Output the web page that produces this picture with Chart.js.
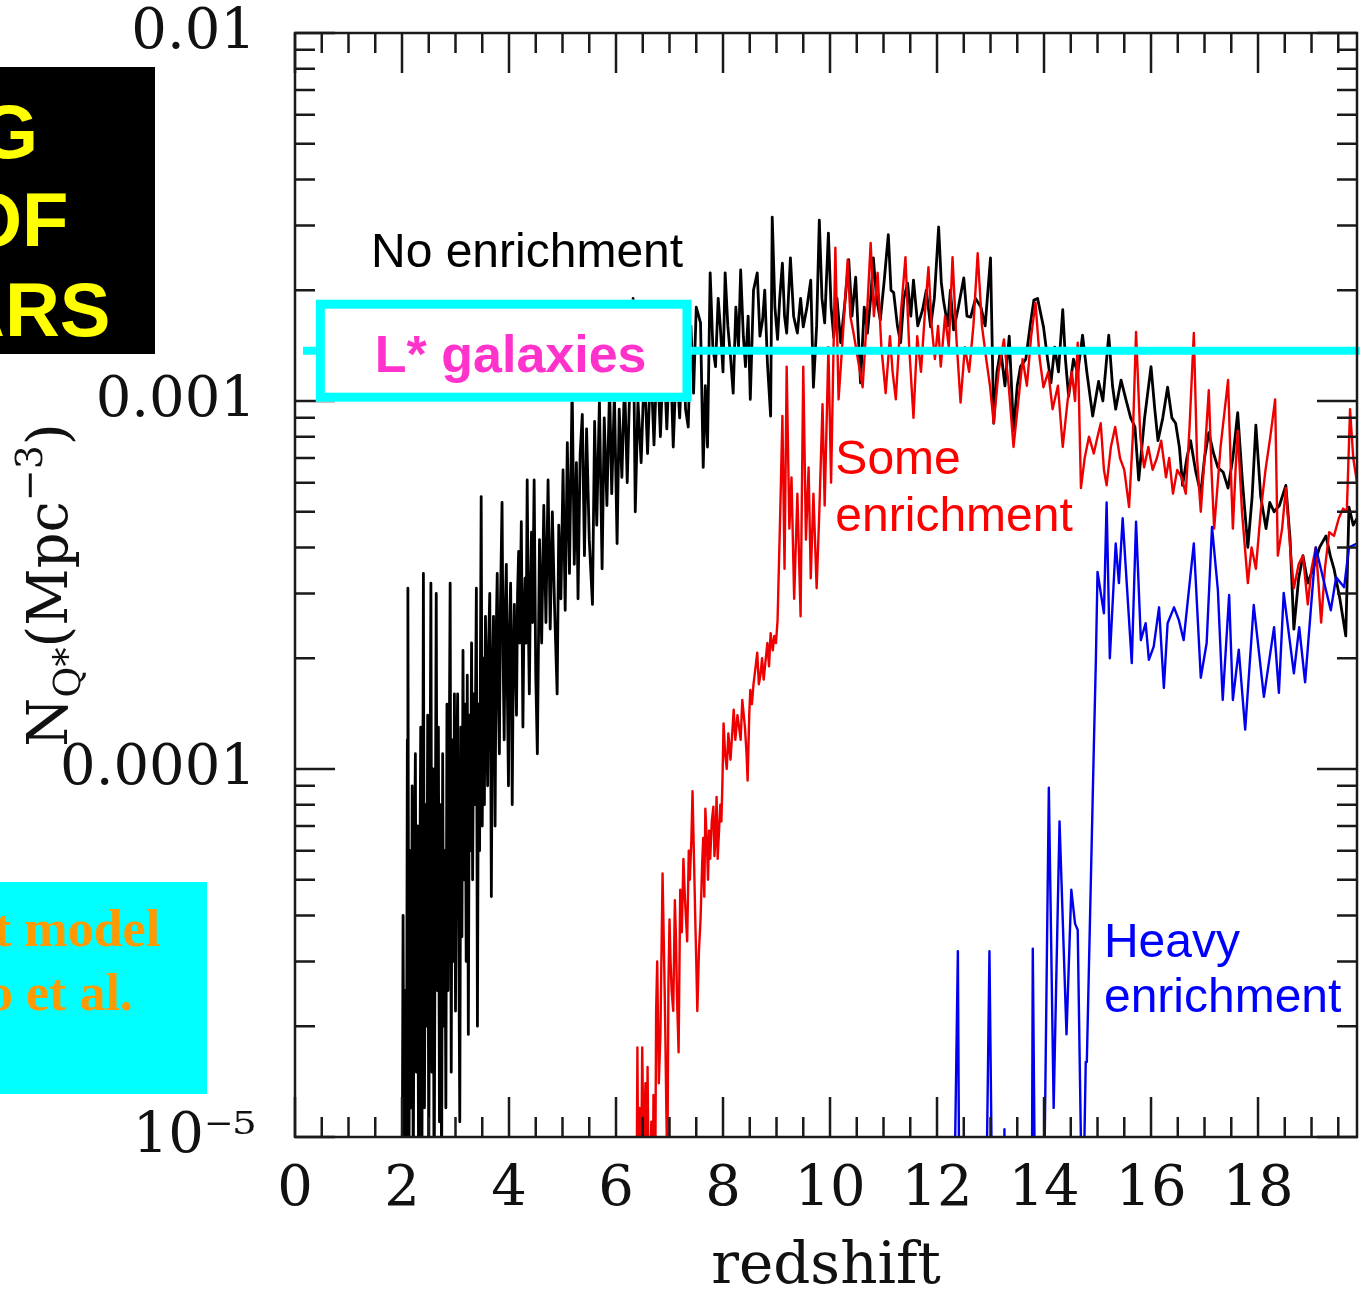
<!DOCTYPE html>
<html>
<head>
<meta charset="utf-8">
<title>Quasar number density vs redshift</title>
<script src="https://cdn.jsdelivr.net/npm/chart.js@4.4.1/dist/chart.umd.min.js"></script>
<style>
    body { margin: 0; background: #ffffff; }
    #wrap { position: relative; width: 1365px; height: 1291px; overflow: hidden; }
    #nqChart { position: absolute; left: 0; top: 0; }
    .slideBox { position: absolute; overflow: hidden; }
    .slideBox div { position: absolute; white-space: nowrap; line-height: 1; }
    #titleBox { left: 0; top: 67px; width: 155px; height: 287px; background: #000000; }
    #titleBox div { color: #ffff00; font: bold 76px "Liberation Sans", Arial, sans-serif; }
    #modelBox { left: 0; top: 882px; width: 207px; height: 212px; background: #00ffff; }
    #modelBox div { color: #ff9900; font: bold 52px "Liberation Serif", "Times New Roman", serif; }
</style>
</head>
<body>
<div id="wrap">
    <canvas id="nqChart" width="1365" height="1291"></canvas>
    <div id="titleBox" class="slideBox">
        <div style="left: -21px; top: 21px;">G</div>
        <div style="left: -37px; top: 109px;">OF</div>
        <div style="left: -50px; top: 199px;">ARS</div>
    </div>
    <div id="modelBox" class="slideBox">
        <div style="left: -6px; top: 17px;">t model</div>
        <div style="left: -13px; top: 81px;">o et al.</div>
    </div>
</div>
<script>
// no enrichment (black)
const noEnrichZ = [
    2.00, 2.02, 2.04, 2.06, 2.08, 2.10, 2.11, 2.13, 2.15, 2.17,
    2.19, 2.21, 2.23, 2.25, 2.27, 2.29, 2.31, 2.33, 2.35, 2.37,
    2.40, 2.42, 2.44, 2.46, 2.48, 2.50, 2.52, 2.54, 2.56, 2.58,
    2.60, 2.62, 2.64, 2.66, 2.68, 2.70, 2.72, 2.74, 2.76, 2.78,
    2.80, 2.82, 2.84, 2.86, 2.88, 2.90, 2.92, 2.94, 2.96, 2.98,
    3.00, 3.02, 3.04, 3.06, 3.08, 3.10, 3.12, 3.14, 3.16, 3.18,
    3.20, 3.22, 3.24, 3.26, 3.28, 3.30, 3.32, 3.34, 3.36, 3.39,
    3.41, 3.43, 3.45, 3.48, 3.50, 3.52, 3.54, 3.56, 3.58, 3.60,
    3.62, 3.64, 3.66, 3.67, 3.69, 3.71, 3.73, 3.74, 3.76, 3.78,
    3.80, 3.82, 3.84, 3.87, 3.89, 3.91, 3.93, 3.95, 3.97, 3.99,
    4.01, 4.03, 4.05, 4.06, 4.08, 4.10, 4.12, 4.14, 4.16, 4.18,
    4.20, 4.23, 4.25, 4.26, 4.28, 4.30, 4.32, 4.34, 4.36, 4.38,
    4.40, 4.42, 4.44, 4.47, 4.50, 4.53, 4.57, 4.61, 4.65, 4.69,
    4.73, 4.77, 4.81, 4.85, 4.90, 4.93,
    4.97, 5.01, 5.05, 5.09, 5.13, 5.18, 5.22, 5.26, 5.29, 5.33, 5.37, 5.41, 5.45, 5.50, 5.56, 5.60, 5.64, 5.69, 5.74, 5.78,
    5.83, 5.88, 5.92, 5.97, 6.02, 6.06, 6.11, 6.16, 6.21, 6.27, 6.32, 6.36, 6.41, 6.47, 6.53, 6.59, 6.65, 6.71, 6.77, 6.83,
    6.89, 6.95, 7.01, 7.07, 7.13, 7.19, 7.25, 7.30, 7.35, 7.40, 7.45, 7.50, 7.58, 7.63, 7.67, 7.71, 7.76, 7.81, 7.86, 7.91,
    7.95, 8.00, 8.04, 8.09, 8.14, 8.19, 8.24, 8.29, 8.33, 8.38, 8.42, 8.47, 8.51, 8.57, 8.64, 8.69, 8.74, 8.78, 8.83, 8.89,
    8.92, 8.97, 9.02, 9.06, 9.11, 9.15, 9.19, 9.26, 9.32, 9.39, 9.45, 9.50, 9.57, 9.64, 9.69, 9.75, 9.80, 9.85, 9.90, 9.97,
    10.02, 10.07, 10.13, 10.20, 10.27, 10.35, 10.41, 10.48, 10.53, 10.57, 10.64, 10.70, 10.76, 10.81, 10.87, 10.94, 11.01, 11.09, 11.14, 11.19,
    11.26, 11.32, 11.38, 11.45, 11.51, 11.56, 11.64, 11.73, 11.80, 11.88, 11.95, 12.03, 12.08, 12.12, 12.20, 12.25, 12.31, 12.40, 12.50, 12.56,
    12.63, 12.72, 12.82, 12.90, 13.00, 13.06, 13.12, 13.19, 13.27, 13.35, 13.43, 13.50, 13.56, 13.66, 13.74, 13.81, 13.88, 13.99, 14.07, 14.13,
    14.20, 14.27, 14.35, 14.40, 14.46, 14.55, 14.63, 14.72, 14.80, 14.91, 15.02, 15.10, 15.21, 15.28, 15.34, 15.44, 15.53, 15.62, 15.70, 15.77,
    15.88, 16.00, 16.07, 16.13, 16.22, 16.31, 16.39, 16.46, 16.53, 16.59, 16.67, 16.74, 16.83, 16.93, 17.00, 17.08, 17.17, 17.25, 17.35, 17.44,
    17.53, 17.62, 17.71, 17.81, 17.89, 17.96, 18.05, 18.15, 18.22, 18.30, 18.40, 18.52, 18.60, 18.67, 18.76, 18.84, 18.93, 19.03, 19.15, 19.27,
    19.35, 19.42, 19.53, 19.64, 19.70, 19.78, 19.85,
];
const noEnrichN = [
    5e-6, 4e-5, 6e-6, 2.5e-5, 6e-6, 1.2e-4, 3.1e-4, 8e-6, 6e-5, 1.2e-5,
    9e-5, 7e-6, 5e-5, 1.1e-4, 1.5e-5, 7e-5, 8e-6, 4e-5, 1.3e-4, 6e-6,
    3.4e-4, 1.2e-5, 8e-5, 2e-5, 1.4e-4, 8e-6, 6e-5, 3.2e-4, 1.5e-5, 1.0e-4,
    6e-6, 5e-5, 3e-4, 2.5e-5, 1.3e-4, 1.1e-5, 8e-5, 7e-6, 1.1e-4, 2e-5,
    6e-5, 1.2e-5, 1.5e-4, 2.5e-5, 9e-5, 3.2e-4, 1.5e-5, 1.2e-4, 3e-5, 1.6e-4,
    2.2e-5, 1.0e-4, 1.6e-4, 4e-5, 1.1e-5, 1.3e-4, 3.5e-5, 2.1e-4, 5e-5, 1.5e-4,
    3e-5, 1.8e-4, 1.9e-5, 1.4e-4, 6e-5, 2.2e-4, 5e-5, 1.6e-4, 8e-5, 3.1e-4,
    2e-5, 1.5e-4, 6e-5, 5.5e-4, 7e-5, 2.0e-4, 8e-5, 2.6e-4, 1.5e-4, 9e-5,
    2.2e-4, 3e-4, 1.0e-4, 4.5e-5, 1.8e-4, 2.6e-4, 1.2e-4, 7e-5, 2.3e-4, 3.4e-4,
    1.6e-4, 1.1e-4, 2.8e-4, 5.3e-4, 2.0e-4, 1.2e-4, 2.7e-4, 3.6e-4, 1.6e-4, 9e-5,
    2.4e-4, 3.2e-4, 1.5e-4, 8e-5, 2.0e-4, 2.8e-4, 1.9e-4, 1.4e-4, 3.0e-4, 3.9e-4,
    2.2e-4, 4.7e-4, 2.0e-4, 1.3e-4, 2.6e-4, 3.3e-4, 2.2e-4, 6.1e-4, 2.6e-4, 1.6e-4,
    3.0e-4, 4.4e-4, 2.5e-4, 6.1e-4, 1.8e-4, 1.1e-4, 4.2e-4, 2.2e-4, 5.2e-4, 2.5e-4,
    6.1e-4, 2.4e-4, 5.0e-4, 2.8e-4, 1.6e-4, 4.6e-4,
    2.9e-4, 6.5e-4, 2.7e-4, 7.7e-4, 3.4e-4, 1.1e-3, 3.6e-4, 6.8e-4, 2.9e-4, 7.2e-4, 9.2e-4, 3.8e-4, 8.4e-4, 4.2e-4, 2.8e-4, 8.8e-4, 4.6e-4, 1.0e-3, 3.5e-4, 9.0e-4,
    5.2e-4, 1.1e-3, 5.6e-4, 1.05e-3, 4.1e-4, 9.5e-4, 6.2e-4, 1.15e-3, 6.0e-4, 1.3e-3, 1.9e-3, 5.0e-4, 1.0e-3, 6.8e-4, 1.25e-3, 7.2e-4, 1.3e-3, 7.6e-4, 1.35e-3, 8.0e-4,
    1.4e-3, 8.4e-4, 1.45e-3, 7.5e-4, 1.3e-3, 9.0e-4, 1.5e-3, 9.5e-4, 8.5e-4, 1.6e-3, 1.05e-3, 1.8e-3, 1.63e-3, 6.6e-4, 1.1e-3, 7.5e-4, 2.23e-3, 1.4e-3, 1.24e-3, 1.9e-3,
    1.59e-3, 1.2e-3, 2.23e-3, 1.6e-3, 1.32e-3, 1.05e-3, 1.8e-3, 1.4e-3, 2.27e-3, 1.5e-3, 1.24e-3, 1.7e-3, 1.01e-3, 2.0e-3, 2.23e-3, 1.5e-3, 1.66e-3, 2.0e-3, 1.27e-3, 9.1e-4,
    3.16e-3, 1.8e-3, 1.47e-3, 1.9e-3, 2.37e-3, 1.7e-3, 1.53e-3, 2.45e-3, 1.7e-3, 1.53e-3, 1.9e-3, 1.59e-3, 1.8e-3, 2.13e-3, 1.09e-3, 1.6e-3, 3.1e-3, 1.9e-3, 1.63e-3, 2.86e-3,
    1.8e-3, 1.49e-3, 1.9e-3, 1.44e-3, 1.8e-3, 2.42e-3, 1.7e-3, 2.17e-3, 1.5e-3, 1.12e-3, 1.8e-3, 1.53e-3, 1.9e-3, 2.45e-3, 1.9e-3, 1.66e-3, 2.1e-3, 2.83e-3, 2.0e-3, 1.97e-3,
    1.6e-3, 1.44e-3, 1.9e-3, 2.09e-3, 1.7e-3, 2.13e-3, 1.6e-3, 1.77e-3, 2.0e-3, 1.59e-3, 1.9e-3, 2.97e-3, 2.1e-3, 1.88e-3, 1.6e-3, 2.0e-3, 1.56e-3, 1.8e-3, 2.16e-3, 1.7e-3,
    1.69e-3, 1.9e-3, 1.8e-3, 1.6e-3, 2.45e-3, 8.7e-4, 1.2e-3, 1.38e-3, 1.1e-3, 1.5e-3, 8.3e-4, 1.1e-3, 1.24e-3, 1.3e-3, 1.6e-3, 1.88e-3, 1.9e-3, 1.59e-3, 1.29e-3, 1.12e-3,
    1.4e-3, 1.2e-3, 1.77e-3, 1.3e-3, 1.03e-3, 1.3e-3, 1.19e-3, 1.51e-3, 1.2e-3, 9.1e-4, 1.13e-3, 1.0e-3, 1.51e-3, 1.1e-3, 9.5e-4, 1.14e-3, 1.01e-3, 9.0e-4, 8.5e-4, 6.1e-4,
    9.0e-4, 1.24e-3, 9.5e-4, 7.8e-4, 9.0e-4, 1.09e-3, 9.0e-4, 8.7e-4, 7.5e-4, 5.9e-4, 7.0e-4, 7.8e-4, 6.5e-4, 5.6e-4, 7.0e-4, 8.2e-4, 7.2e-4, 6.6e-4, 6.4e-4, 5.8e-4,
    7.0e-4, 9.3e-4, 6.0e-4, 4.0e-4, 5.5e-4, 8.6e-4, 5.5e-4, 4.5e-4, 5.3e-4, 5.0e-4, 5.2e-4, 5.9e-4, 4.2e-4, 2.4e-4, 3.3e-4, 3.8e-4, 3.2e-4, 3.5e-4, 4.0e-4, 4.3e-4,
    3.8e-4, 3.5e-4, 2.9e-4, 2.3e-4, 5.15e-4, 4.6e-4, 4.8e-4,
];

// some enrichment (red)
const someEnrichZ = [
    6.38, 6.40, 6.42, 6.44, 6.46, 6.49, 6.52, 6.55, 6.57, 6.59,
    6.62, 6.66, 6.68, 6.70, 6.73, 6.75, 6.77, 6.80, 6.83, 6.87,
    6.90, 6.92, 6.94, 6.96, 6.98, 7.00, 7.02, 7.04, 7.07, 7.10,
    7.12, 7.14, 7.17, 7.20, 7.23, 7.26, 7.29, 7.33, 7.36, 7.38,
    7.41, 7.43, 7.46, 7.48, 7.50, 7.52, 7.55, 7.58, 7.61, 7.63,
    7.65, 7.67, 7.70, 7.72, 7.74, 7.76, 7.79, 7.82, 7.84, 7.86,
    7.88, 7.90, 7.93, 7.95, 7.97, 7.99, 8.01, 8.04, 8.07, 8.10,
    8.14, 8.18, 8.20, 8.23, 8.27, 8.30, 8.33, 8.36, 8.41, 8.44,
    8.46, 8.49, 8.51, 8.54, 8.57, 8.61, 8.64, 8.67, 8.70, 8.73,
    8.76, 8.80, 8.83, 8.86, 8.89, 8.93, 8.96, 8.99, 9.02,
    9.07, 9.11, 9.15, 9.19, 9.24, 9.28,
    9.33, 9.39, 9.45, 9.50, 9.55, 9.60, 9.64, 9.69, 9.75, 9.80, 9.86, 9.90, 9.97, 10.02, 10.10, 10.16, 10.24, 10.33, 10.38, 10.44,
    10.52, 10.61, 10.68, 10.76, 10.82, 10.89, 10.96, 11.04, 11.12, 11.17, 11.23, 11.32, 11.41, 11.48, 11.56, 11.63, 11.70, 11.77, 11.84, 11.90,
    11.96, 12.02, 12.07, 12.15, 12.22, 12.29, 12.36, 12.44, 12.52, 12.60, 12.68, 12.76, 12.84, 12.92, 12.99, 13.06, 13.15, 13.25, 13.34, 13.43,
    13.52, 13.60, 13.68, 13.76, 13.84, 13.92, 13.99, 14.08, 14.16, 14.26, 14.35, 14.44, 14.52, 14.58, 14.63, 14.69, 14.76, 14.84, 14.93, 15.00,
    15.06, 15.12, 15.17, 15.25, 15.33, 15.42, 15.50, 15.59, 15.66, 15.72, 15.80, 15.87, 15.95, 16.03, 16.11, 16.19, 16.28, 16.34, 16.41, 16.49,
    16.57, 16.65, 16.72, 16.80, 16.86, 16.93, 17.00, 17.08, 17.13, 17.18, 17.30, 17.44, 17.50, 17.53, 17.58, 17.62, 17.70, 17.81, 17.88, 17.96,
    18.05, 18.14, 18.23, 18.32, 18.37, 18.45, 18.52, 18.60, 18.67, 18.76, 18.84, 18.93, 19.00, 19.08, 19.13, 19.18, 19.25, 19.33, 19.42, 19.51,
    19.59, 19.66, 19.72, 19.78, 19.85,
];
const someEnrichN = [
    5e-6, 1.75e-5, 6e-6, 1.2e-5, 5e-6, 1.75e-5, 8e-6, 1.4e-5, 6e-6, 1.55e-5,
    5e-6, 1.1e-5, 5e-6, 1.3e-5, 6e-6, 2.2e-5, 3.0e-5, 1.4e-5, 1.9e-5, 5.2e-5,
    3.0e-5, 2.0e-5, 1.2e-5, 8e-6, 2.6e-5, 3.9e-5, 3.0e-5, 2.5e-5, 2.2e-5, 4.4e-5,
    3.5e-5, 2.4e-5, 1.7e-5, 4.7e-5, 3.6e-5, 5.7e-5, 4.4e-5, 3.4e-5, 6.0e-5, 5.0e-5,
    6.5e-5, 8.7e-5, 5.5e-5, 4.0e-5, 3.0e-5, 2.2e-5, 3.2e-5, 3.9e-5, 5.5e-5, 6.5e-5,
    4.5e-5, 7.8e-5, 6.2e-5, 5.0e-5, 6.8e-5, 5.7e-5, 7.2e-5, 7.9e-5, 5.8e-5, 6.5e-5,
    8.4e-5, 5.7e-5, 7.0e-5, 8.0e-5, 7.2e-5, 9.3e-5, 1.33e-4, 1.1e-4, 1.0e-4, 1.25e-4,
    1.06e-4, 1.3e-4, 1.45e-4, 1.2e-4, 1.4e-4, 1.3e-4, 1.2e-4, 1.54e-4, 1.3e-4, 1.1e-4,
    9.3e-5, 1.4e-4, 1.64e-4, 1.5e-4, 1.7e-4, 1.9e-4, 2.07e-4, 1.7e-4, 1.8e-4, 2.0e-4,
    1.75e-4, 2.0e-4, 2.2e-4, 1.9e-4, 2.34e-4, 2.1e-4, 2.3e-4, 2.2e-4, 2.54e-4,
    5.0e-4, 9.1e-4, 3.5e-4, 1.24e-3, 4.5e-4, 6.2e-4,
    2.9e-4, 5.6e-4, 2.6e-4, 1.24e-3, 4.2e-4, 6.6e-4, 3.3e-4, 5.6e-4, 3.1e-4, 5.0e-4, 9.8e-4, 5.2e-4, 1.4e-3, 6.0e-4, 2.61e-3, 1.01e-3, 1.5e-3, 2.42e-3, 1.7e-3, 1.53e-3,
    1.3e-3, 1.09e-3, 1.6e-3, 2.69e-3, 1.7e-3, 2.23e-3, 1.4e-3, 1.05e-3, 1.5e-3, 1.2e-3, 1.01e-3, 1.7e-3, 2.46e-3, 1.4e-3, 9.0e-4, 1.5e-3, 1.2e-3, 1.7e-3, 2.31e-3, 1.6e-3,
    1.3e-3, 1.6e-3, 1.24e-3, 1.7e-3, 1.4e-3, 2.46e-3, 1.5e-3, 9.9e-4, 1.4e-3, 1.2e-3, 1.6e-3, 2.52e-3, 1.6e-3, 1.3e-3, 1.1e-3, 8.7e-4, 1.2e-3, 1.47e-3, 1.1e-3, 7.5e-4,
    1.0e-3, 1.3e-3, 1.1e-3, 1.5e-3, 1.85e-3, 1.3e-3, 1.09e-3, 1.2e-3, 9.5e-4, 1.1e-3, 7.5e-4, 1.0e-3, 1.2e-3, 1.0e-3, 1.44e-3, 5.8e-4, 7.0e-4, 8.0e-4, 7.2e-4, 8.0e-4,
    8.7e-4, 6.5e-4, 5.9e-4, 7.5e-4, 8.5e-4, 7.0e-4, 6.5e-4, 5.15e-4, 8.0e-4, 1.54e-3, 8.0e-4, 6.6e-4, 7.5e-4, 6.5e-4, 7.0e-4, 7.8e-4, 6.2e-4, 7.0e-4, 5.6e-4, 6.5e-4,
    6.2e-4, 5.6e-4, 8.5e-4, 1.53e-3, 7.0e-4, 5.0e-4, 7.0e-4, 1.07e-3, 6.5e-4, 4.5e-4, 7.5e-4, 1.14e-3, 6.0e-4, 4.5e-4, 6.5e-4, 8.3e-4, 5.0e-4, 3.2e-4, 4.0e-4, 3.5e-4,
    5.0e-4, 6.5e-4, 8.0e-4, 1.01e-3, 3.8e-4, 4.5e-4, 5.8e-4, 4.0e-4, 3.1e-4, 3.6e-4, 3.8e-4, 2.8e-4, 3.5e-4, 4.0e-4, 3.2e-4, 2.5e-4, 3.5e-4, 4.4e-4, 4.3e-4, 4.8e-4,
    5.1e-4, 5.0e-4, 9.5e-4, 7.0e-4, 6.0e-4,
];

// heavy enrichment (blue)
const heavyEnrichZ = [
    12.31, 12.39, 12.42, 12.91, 12.98, 13.04, 13.24, 13.26, 13.28, 13.77, 13.79, 13.84, 13.99, 14.09, 14.18, 14.29, 14.42, 14.51, 14.58, 14.63,
    14.72, 14.78, 14.80, 14.93, 14.97, 15.00, 15.12, 15.17, 15.23, 15.34, 15.40, 15.47, 15.64, 15.72, 15.81, 15.90, 15.96, 16.05, 16.15, 16.24,
    16.31, 16.43, 16.52, 16.61, 16.80, 16.93, 17.04, 17.14, 17.25, 17.34, 17.46, 17.53, 17.64, 17.76, 17.92, 18.11, 18.30, 18.39, 18.48, 18.67,
    18.77, 18.88, 18.99, 19.08, 19.27, 19.36, 19.46, 19.61, 19.70, 19.85,
];
const heavyEnrichN = [
    5e-6, 3.2e-5, 5e-6, 5e-6, 3.2e-5, 5e-6, 5e-6, 1.05e-5, 5e-6, 5e-6, 3.25e-5, 5e-6, 5e-6, 8.9e-5, 1.2e-5, 7.2e-5, 1.9e-5, 4.7e-5, 3.8e-5, 3.65e-5,
    5e-6, 1.6e-5, 1.6e-5, 1.13e-4, 2.0e-4, 3.43e-4, 2.65e-4, 5.3e-4, 2.0e-4, 4.1e-4, 3.2e-4, 4.8e-4, 1.94e-4, 4.7e-4, 2.24e-4, 2.49e-4, 1.98e-4, 2.15e-4, 2.75e-4, 1.66e-4,
    2.49e-4, 2.75e-4, 2.54e-4, 2.24e-4, 4.1e-4, 1.77e-4, 2.2e-4, 4.55e-4, 3.06e-4, 1.54e-4, 2.97e-4, 1.54e-4, 2.11e-4, 1.28e-4, 2.79e-4, 1.57e-4, 2.43e-4, 1.61e-4, 3.01e-4, 1.82e-4,
    2.43e-4, 1.72e-4, 2.75e-4, 4.0e-4, 3.06e-4, 2.7e-4, 3.32e-4, 3.12e-4, 4.0e-4, 4.1e-4,
];

// L* galaxies reference level
const lStarZ = [0.15, 19.9];
const lStarN = [1.37e-3, 1.37e-3];

const xTickValues = [0, 2, 4, 6, 8, 10, 12, 14, 16, 18];
const xTickLabels = ["0", "2", "4", "6", "8", "10", "12", "14", "16", "18"];
const yTickValues = [1e-5, 1e-4, 1e-3, 1e-2];
const yTickLabels = ["10\u207B\u2075", "0.0001", "0.001", "0.01"];

const serif = "'DejaVu Serif', 'Liberation Serif', serif";
const sans = "'Liberation Sans', Arial, sans-serif";

// text placed next to the curves, anchored in data units
const curveNotes = [
    { text: "No enrichment", color: "#000000", z: 1.42, n: 2.31e-3 },
    { text: "Some", color: "#ff0000", z: 10.1, n: 6.34e-4 },
    { text: "enrichment", color: "#ff0000", z: 10.1, n: 4.43e-4 },
    { text: "Heavy", color: "#0000ff", z: 15.12, n: 3.08e-5 },
    { text: "enrichment", color: "#0000ff", z: 15.12, n: 2.19e-5 },
];

document.addEventListener("DOMContentLoaded", function () {
    setChart();
});

function toPoints(zs, ns) {
    return zs.map((z, i) => ({ x: z, y: ns[i] }));
}

// inward ticks on four sides, frame, L* box, notes and axis titles
const plotDecor = {
    id: "plotDecor",
    afterDatasetsDraw(chart) {
        const ctx = chart.ctx;
        const area = chart.chartArea;
        const xs = chart.scales.x;
        const ys = chart.scales.y;

        ctx.save();
        ctx.strokeStyle = "#1a1a1a";
        ctx.lineWidth = 2.5;
        ctx.beginPath();

        const xTick = (v, len) => {
            const px = xs.getPixelForValue(v);
            ctx.moveTo(px, area.bottom);
            ctx.lineTo(px, area.bottom - len);
            ctx.moveTo(px, area.top);
            ctx.lineTo(px, area.top + len);
        };
        const yTick = (v, len) => {
            const py = ys.getPixelForValue(v);
            ctx.moveTo(area.left, py);
            ctx.lineTo(area.left + len, py);
            ctx.moveTo(area.right, py);
            ctx.lineTo(area.right - len, py);
        };

        xTickValues.forEach(v => xTick(v, 40));
        for (let v = 0.5; v < 19.85; v += 0.5) {
            if (v % 2 !== 0) xTick(v, 20);
        }
        yTickValues.forEach(v => yTick(v, 40));
        yTickValues.slice(0, 3).forEach(d => {
            for (let m = 2; m <= 9; m++) yTick(m * d, 20);
        });
        ctx.stroke();
        ctx.strokeRect(area.left, area.top, area.right - area.left, area.bottom - area.top);

        // L* galaxies box sitting on the reference line
        const lineY = ys.getPixelForValue(lStarN[0]);
        const boxL = xs.getPixelForValue(0.39);
        const boxR = xs.getPixelForValue(7.41);
        ctx.fillStyle = "#ffffff";
        ctx.fillRect(boxL, lineY - 51, boxR - boxL, 102);
        ctx.strokeStyle = "#00ffff";
        ctx.lineWidth = 9;
        ctx.strokeRect(boxL + 4.5, lineY - 46.5, boxR - boxL - 9, 93);
        ctx.fillStyle = "#ff33cc";
        ctx.font = "bold 52px " + sans;
        ctx.textAlign = "center";
        ctx.textBaseline = "alphabetic";
        ctx.fillText("L* galaxies", (boxL + boxR) / 2 + 7, lineY + 21);

        ctx.font = "48px " + sans;
        ctx.textAlign = "left";
        curveNotes.forEach(note => {
            ctx.fillStyle = note.color;
            ctx.fillText(note.text, xs.getPixelForValue(note.z), ys.getPixelForValue(note.n));
        });

        // x title
        ctx.fillStyle = "#111111";
        ctx.font = "58px " + serif;
        ctx.textAlign = "center";
        ctx.fillText("redshift", (area.left + area.right) / 2, area.bottom + 146);

        // y title with sub/superscripts, reading upwards
        const parts = [
            { t: "N", size: 56, dy: 0 },
            { t: "Q*", size: 38, dy: 13 },
            { t: "(Mpc", size: 56, dy: 0 },
            { t: "\u22123", size: 38, dy: -25 },
            { t: ")", size: 56, dy: 0 },
        ];
        let total = 0;
        parts.forEach(p => {
            ctx.font = p.size + "px " + serif;
            p.w = ctx.measureText(p.t).width;
            total += p.w;
        });
        ctx.translate(area.left - 228, (area.top + area.bottom) / 2);
        ctx.rotate(-Math.PI / 2);
        ctx.textAlign = "left";
        let pos = -total / 2;
        parts.forEach(p => {
            ctx.font = p.size + "px " + serif;
            ctx.fillText(p.t, pos, p.dy);
            pos += p.w;
        });
        ctx.restore();
    },
};

function setChart() {
    const ctx = document.getElementById("nqChart").getContext("2d");
    const lineStyle = {
        pointRadius: 0,
        tension: 0,
        borderJoinStyle: "round",
        fill: false,
    };

    new Chart(ctx, {
        type: "line",
        data: {
            datasets: [
                {
                    label: "L* galaxies",
                    data: toPoints(lStarZ, lStarN),
                    borderColor: "#00ffff",
                    borderWidth: 8,
                    clip: false,
                    order: 0,
                    ...lineStyle,
                },
                {
                    label: "Heavy enrichment",
                    data: toPoints(heavyEnrichZ, heavyEnrichN),
                    borderColor: "#0000ee",
                    borderWidth: 2.4,
                    order: 1,
                    ...lineStyle,
                },
                {
                    label: "Some enrichment",
                    data: toPoints(someEnrichZ, someEnrichN),
                    borderColor: "#ee0000",
                    borderWidth: 2.4,
                    order: 2,
                    ...lineStyle,
                },
                {
                    label: "No enrichment",
                    data: toPoints(noEnrichZ, noEnrichN),
                    borderColor: "#000000",
                    borderWidth: 2.8,
                    order: 3,
                    ...lineStyle,
                },
            ],
        },
        options: {
            responsive: false,
            animation: false,
            devicePixelRatio: 1,
            layout: {
                autoPadding: false,
                padding: { top: 33, right: 8, bottom: 0, left: 0 },
            },
            plugins: {
                legend: { display: false },
                tooltip: { enabled: false },
            },
            scales: {
                x: {
                    type: "linear",
                    min: 0,
                    max: 19.85,
                    afterBuildTicks: scale => {
                        scale.ticks = xTickValues.map(v => ({ value: v }));
                    },
                    afterFit: scale => {
                        scale.height = 154;
                        scale.paddingLeft = 0;
                        scale.paddingRight = 0;
                    },
                    ticks: {
                        autoSkip: false,
                        maxRotation: 0,
                        padding: 20,
                        color: "#111111",
                        font: { family: serif, size: 56 },
                        callback: value => xTickLabels[xTickValues.indexOf(value)],
                    },
                    grid: { display: false, drawTicks: false },
                    border: { display: false },
                },
                y: {
                    type: "logarithmic",
                    min: 1e-5,
                    max: 1e-2,
                    afterBuildTicks: scale => {
                        scale.ticks = yTickValues.map(v => ({ value: v }));
                    },
                    afterFit: scale => {
                        scale.width = 295;
                        scale.paddingTop = 0;
                        scale.paddingBottom = 0;
                    },
                    ticks: {
                        autoSkip: false,
                        padding: 39,
                        color: "#111111",
                        font: { family: serif, size: 56 },
                        callback: value => yTickLabels[yTickValues.indexOf(value)],
                    },
                    grid: { display: false, drawTicks: false },
                    border: { display: false },
                },
            },
        },
        plugins: [plotDecor],
    });
}
</script>
</body>
</html>
